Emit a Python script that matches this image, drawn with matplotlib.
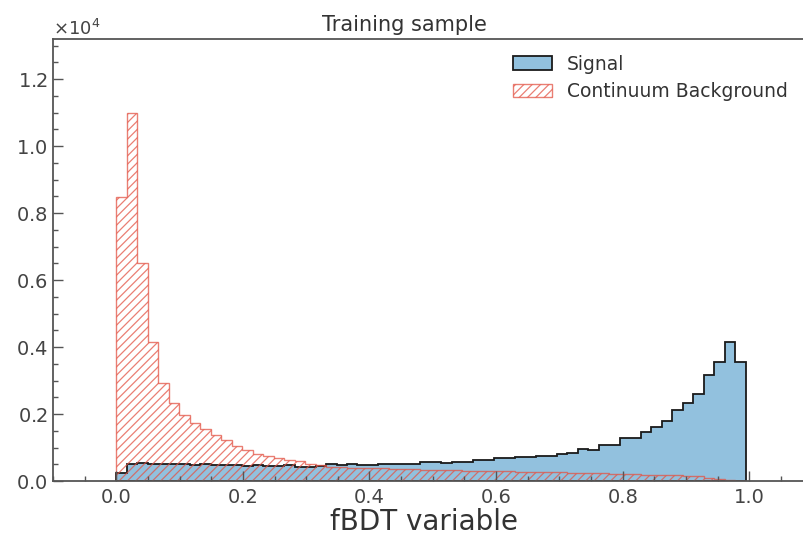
import numpy as np
import matplotlib.pyplot as plt
from matplotlib.ticker import MultipleLocator

# fBDT output, 60 equal bins; counts per bin for each sample
n_bins = 60
fbdt_min, fbdt_max = 0.0, 0.994

signal = [250, 520, 530, 510, 520, 500, 510, 490, 500, 490,
          480, 470, 460, 470, 450, 460, 480, 430, 420, 440,
          500, 490, 500, 490, 480, 520, 520, 520, 520, 580,
          580, 540, 580, 580, 620, 620, 680, 680, 730, 730,
          740, 740, 800, 830, 950, 920, 1070, 1070, 1280, 1280,
          1460, 1610, 1790, 2130, 2340, 2590, 3160, 3550, 4140, 3550]

background = [8470, 11000, 6500, 4160, 2930, 2320, 1970, 1720, 1550, 1380,
              1220, 1060, 930, 820, 740, 680, 640, 590, 520, 470,
              430, 415, 400, 395, 390, 380, 370, 360, 350, 340,
              330, 320, 315, 310, 300, 295, 290, 285, 280, 275,
              270, 262, 255, 248, 240, 232, 225, 218, 210, 200,
              192, 185, 178, 170, 160, 150, 90, 60, 40, 15]

edges = np.linspace(fbdt_min, fbdt_max, n_bins + 1)
centers = 0.5 * (edges[:-1] + edges[1:])

text_color = "#333333"
plt.rcParams["text.color"] = text_color
plt.rcParams["axes.labelcolor"] = text_color
plt.rcParams["xtick.color"] = "#555555"
plt.rcParams["ytick.color"] = "#555555"
plt.rcParams["xtick.labelcolor"] = "#444444"
plt.rcParams["ytick.labelcolor"] = "#444444"
plt.rcParams["hatch.linewidth"] = 0.9

fig = plt.figure(figsize=(8.04, 5.41), dpi=100)
ax = fig.add_axes([0.0659, 0.1109, 0.9448, 0.817])

ax.hist(centers, bins=edges, weights=signal, histtype="stepfilled",
        facecolor="#92c1de", edgecolor="#1a1a1a", linewidth=1.3,
        label="Signal")
ax.hist(centers, bins=edges, weights=background, histtype="stepfilled",
        facecolor="none", edgecolor=(0.89, 0.33, 0.27, 0.75), hatch="////",
        linewidth=1.0, label="Continuum Background")

ax.set_xlim(-0.1, 1.1)
ax.set_ylim(0, 13200)

ax.xaxis.set_major_locator(MultipleLocator(0.2))
ax.xaxis.set_minor_locator(MultipleLocator(0.05))
ax.yaxis.set_major_locator(MultipleLocator(2000))
ax.yaxis.set_minor_locator(MultipleLocator(500))
ax.ticklabel_format(style="sci", axis="y", scilimits=(0, 0), useMathText=True)
ax.yaxis.get_offset_text().set_fontsize(13)

ax.tick_params(which="both", direction="in", labelsize=14, width=1)
ax.tick_params(which="major", length=7)
ax.tick_params(which="minor", length=3.5)
ax.tick_params(axis="y", pad=4)
ax.tick_params(axis="x", pad=5)

for side in ["left", "bottom", "top", "right"]:
    ax.spines[side].set_color("#555555")
    ax.spines[side].set_linewidth(1.3)

ax.set_title("Training sample", fontsize=15, pad=6, x=0.463)
ax.set_xlabel("fBDT variable", fontsize=20, labelpad=0)
ax.xaxis.set_label_coords(0.489, -0.062)

ax.legend(loc="upper right", frameon=False, fontsize=13.5,
          bbox_to_anchor=(0.9896, 1.003), handlelength=2.1, labelspacing=0.45)

fig.savefig("out.png", dpi=100)
